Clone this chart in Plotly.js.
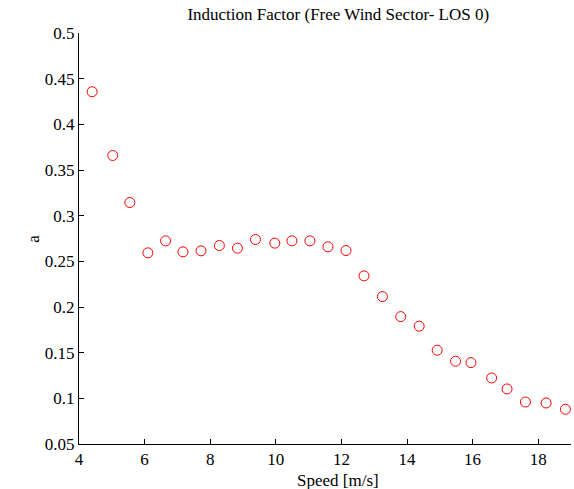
<!DOCTYPE html>
<html>
<head>
<meta charset="utf-8">
<script src="https://cdn.plot.ly/plotly-3.0.1.min.js"></script>
<style>
html, body { margin: 0; padding: 0; background: #fff; overflow: hidden; }
#chart { width: 574px; height: 489px; }
</style>
</head>
<body>
<div id="chart"></div>
<script>
// Wind speed [m/s]
const speed = [4.40, 5.03, 5.55, 6.10, 6.64, 7.17, 7.72, 8.28, 8.83, 9.38,
               9.97, 10.49, 11.04, 11.59, 12.14, 12.69, 13.25, 13.81, 14.37, 14.92,
               15.48, 15.95, 16.58, 17.05, 17.61, 18.24, 18.83];
// Induction factor a
const inductionA = [0.4357, 0.3659, 0.3144, 0.2593, 0.2724, 0.2604, 0.2615, 0.2673, 0.2644, 0.2739,
                    0.2699, 0.2724, 0.2724, 0.2659, 0.2618, 0.2341, 0.2114, 0.1895, 0.1790, 0.1527,
                    0.1406, 0.1391, 0.1223, 0.1103, 0.0960, 0.0949, 0.0880];

const xTickVals = [4, 6, 8, 10, 12, 14, 16, 18];
const xTickText = ["4", "6", "8", "10", "12", "14", "16", "18"];
const yTickVals = [0.05, 0.1, 0.15, 0.2, 0.25, 0.3, 0.35, 0.4, 0.45, 0.5];
const yTickText = ["0.05", "0.1", "0.15", "0.2", "0.25", "0.3", "0.35", "0.4", "0.45", "0.5"];

const FONT = 'Liberation Serif, Times New Roman, Times, serif';

const trace = {
  x: speed,
  y: inductionA,
  type: 'scatter',
  mode: 'markers',
  marker: { symbol: 'circle-open', size: 10, color: '#ff0000', line: { color: '#ff0000', width: 1 } },
  hoverinfo: 'x+y'
};

const layout = {
  width: 574,
  height: 489,
  margin: { l: 79, r: 3, t: 33, b: 45, pad: 0 },
  paper_bgcolor: '#ffffff',
  plot_bgcolor: '#ffffff',
  font: { family: FONT, size: 17, color: '#000000' },
  showlegend: false,
  title: {
    text: 'Induction Factor (Free Wind Sector- LOS 0)',
    font: { family: FONT, size: 17, color: '#000000' },
    x: 0.527, xref: 'paper', xanchor: 'center',
    y: 0.972, yref: 'container', yanchor: 'middle'
  },
  xaxis: {
    range: [4, 19],
    tickvals: xTickVals,
    ticktext: xTickText,
    ticks: 'inside',
    ticklen: 5,
    tickwidth: 1,
    tickcolor: '#000000',
    showline: true,
    linecolor: '#000000',
    linewidth: 1,
    showgrid: false,
    zeroline: false,
    mirror: false,
    tickfont: { family: FONT, size: 17, color: '#000000' },
    title: { text: '' }
  },
  yaxis: {
    range: [0.05, 0.5],
    tickvals: yTickVals,
    ticktext: yTickText,
    ticks: 'inside',
    ticklen: 5,
    tickwidth: 1,
    tickcolor: '#000000',
    showline: true,
    linecolor: '#000000',
    linewidth: 1,
    showgrid: false,
    zeroline: false,
    mirror: false,
    tickfont: { family: FONT, size: 17, color: '#000000' },
    title: { text: '' }
  },
  annotations: [
    {
      text: 'Speed [m/s]',
      xref: 'paper', yref: 'paper',
      x: 0.527, y: -0.088,
      xanchor: 'center', yanchor: 'middle',
      showarrow: false,
      font: { family: FONT, size: 17, color: '#000000' }
    },
    {
      text: 'a',
      xref: 'paper', yref: 'paper',
      x: -0.093, y: 0.5,
      xanchor: 'center', yanchor: 'middle',
      textangle: -90,
      showarrow: false,
      font: { family: FONT, size: 17, color: '#000000' }
    }
  ]
};

Plotly.newPlot('chart', [trace], layout, { displayModeBar: false, staticPlot: false, responsive: false });
</script>
</body>
</html>
